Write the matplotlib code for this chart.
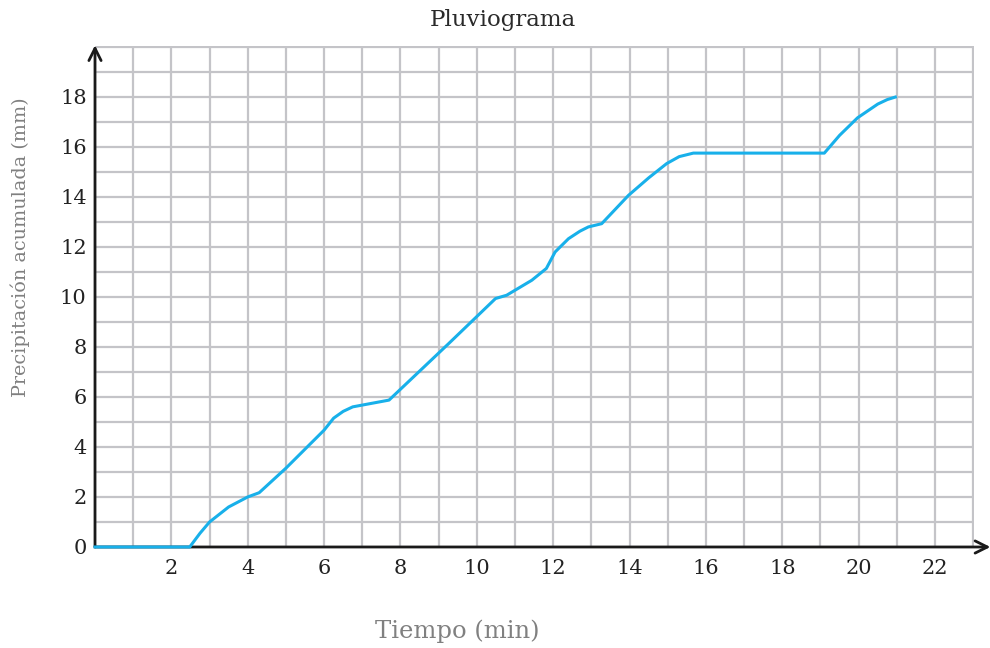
import matplotlib

matplotlib.use("Agg")
import matplotlib.pyplot as plt
import numpy as np

# Curve (minutes, mm)
tiempo = [0, 2.48, 2.75, 3.0, 3.5, 4.0, 4.3, 5.0, 6.0, 6.25, 6.5, 6.75,
          7.7, 9.27, 10.49, 10.78, 11.44, 11.82, 12.05, 12.4, 12.7, 12.92,
          13.27, 13.97, 14.5, 14.97, 15.3, 15.67, 19.1, 19.5, 19.97, 20.5,
          20.75, 20.96]
precip = [0, 0, 0.55, 1.0, 1.6, 2.0, 2.17, 3.15, 4.67, 5.15, 5.42, 5.6,
          5.87, 8.14, 9.93, 10.06, 10.66, 11.13, 11.79, 12.32, 12.62, 12.79,
          12.92, 14.05, 14.75, 15.32, 15.6, 15.74, 15.74, 16.45, 17.15,
          17.7, 17.88, 17.98]

x_ticks = list(range(2, 23, 2))
y_ticks = list(range(0, 19, 2))

plt.rcParams["font.family"] = ["DejaVu Serif"]

fig = plt.figure(figsize=(9.9, 6.48), dpi=100)
ax = fig.add_axes([95 / 990, 101 / 648, 879 / 990, 501 / 648])

ax.set_xlim(0, 23.02)
ax.set_ylim(0, 20.02)
ax.set_xticks(x_ticks)
ax.set_yticks(y_ticks)
ax.set_xticks(np.arange(0, 24, 1), minor=True)
ax.set_yticks(np.arange(0, 21, 1), minor=True)
ax.grid(True, which="both", color="#c4c4c8", lw=1.6)
ax.set_axisbelow(True)
ax.tick_params(which="both", length=0)
ax.tick_params(axis="x", pad=9, labelsize=15, labelcolor="#222222")
ax.tick_params(axis="y", pad=6, labelsize=15, labelcolor="#222222")
for s in ax.spines.values():
    s.set_visible(False)

ax.plot(tiempo, precip, color="#18b0ea", lw=2.2, solid_joinstyle="round",
        zorder=4, clip_on=False)

# axis arrows
ax.annotate("", xy=(23.45, 0), xytext=(0, 0), annotation_clip=False,
            arrowprops=dict(arrowstyle="->", color="#1a1a1a", lw=2,
                            mutation_scale=22, shrinkA=0, shrinkB=0),
            zorder=3)
ax.annotate("", xy=(0, 20.05), xytext=(0, 0), annotation_clip=False,
            arrowprops=dict(arrowstyle="->", color="#1a1a1a", lw=2,
                            mutation_scale=22, shrinkA=0, shrinkB=0),
            zorder=3)

fig.text(503 / 990, 1 - 20 / 648, "Pluviograma", ha="center", va="center",
         fontsize=16.5, color="#2a2a2a")
fig.text(20 / 990, 1 - 247 / 648, "Precipitación acumulada (mm)",
         rotation=90, ha="center", va="center", fontsize=13.8, color="#808080")
fig.text(457 / 990, 1 - 631 / 648, "Tiempo (min)", ha="center", va="center",
         fontsize=17.5, color="#808080")

fig.savefig("out.png", dpi=100)
